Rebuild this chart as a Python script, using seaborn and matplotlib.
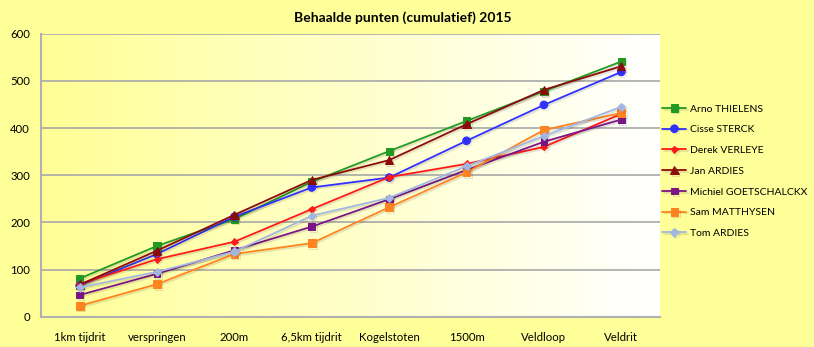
import numpy as np
import pandas as pd
import matplotlib
matplotlib.use("Agg")
import matplotlib.pyplot as plt
import matplotlib.patheffects as pe
import seaborn as sns

categories = ["1km tijdrit", "verspringen", "200m", "6,5km tijdrit",
              "Kogelstoten", "1500m", "Veldloop", "Veldrit"]
arno = [81, 150, 207, 286, 351, 415, 478, 541]
cisse = [66, 133, 212, 274, 295, 373, 449, 519]
derek = [69, 122, 159, 228, 296, 324, 360, 430]
jan = [68, 140, 216, 290, 332, 408, 481, 531]
michiel = [46, 91, 141, 191, 249, 311, 371, 418]
sam = [23, 69, 133, 156, 232, 306, 396, 432]
tom = [62, 95, 138, 214, 252, 319, 383, 445]
names = ["Arno THIELENS", "Cisse STERCK", "Derek VERLEYE", "Jan ARDIES",
         "Michiel GOETSCHALCKX", "Sam MATTHYSEN", "Tom ARDIES"]
series = [arno, cisse, derek, jan, michiel, sam, tom]
title = "Behaalde punten (cumulatief) 2015"
yticks = [0, 100, 200, 300, 400, 500, 600]

colors = ["#229a22", "#3030ff", "#ff1a1a", "#8c0a0a", "#7a1585", "#ff8420", "#a2b6e2"]
markers = ["s", "o", "D", "^", "s", "s", "D"]
msizes = [5.2, 5.5, 3.6, 6.0, 4.8, 5.5, 4.2]

rows = []
for n, vals in zip(names, series):
    for i, v in enumerate(vals):
        rows.append({"cat": i, "name": n, "val": v})
df = pd.DataFrame(rows)

sns.set_theme(style="white")
plt.rcParams["font.family"] = ["Lato", "DejaVu Sans"]
plt.rcParams["text.color"] = "black"
plt.rcParams["xtick.color"] = "black"
plt.rcParams["ytick.color"] = "black"

bg = "#ffff99"
fig = plt.figure(figsize=(8.14, 3.47), dpi=100, facecolor=bg)
ax = fig.add_axes([41 / 814, 1 - 316.7 / 347, 619 / 814, 283 / 347])
ax.set_facecolor("none")

# gradient background of plot area
grad = np.linspace(0, 1, 256)
img = np.zeros((1, 256, 3))
img[0, :, 0] = 1.0
img[0, :, 1] = 1.0
img[0, :, 2] = (150 + (255 - 150) * grad) / 255
ax.imshow(img, extent=[0, 1, 0, 1], transform=ax.transAxes, aspect="auto", zorder=0)

for n, c, m, ms in zip(names, colors, markers, msizes):
    sub = df[df["name"] == n]
    sns.lineplot(data=sub, x="cat", y="val", ax=ax, color=c, marker=m,
                 markersize=ms, markeredgecolor=c, linewidth=1.3, label=n,
                 zorder=3,
                 path_effects=[pe.SimpleLineShadow(offset=(1, -1.2), alpha=0.12), pe.Normal()])

ax.set_xlim(-0.5, len(categories) - 0.5)
ax.set_ylim(0, 600)
ax.set_yticks(yticks)
ax.set_yticklabels([str(t) for t in yticks], fontsize=8.2)
ax.set_xticks(range(len(categories)))
ax.set_xticklabels(categories, fontsize=8.2)
ax.set_xticks(np.arange(-0.5, len(categories), 1), minor=True)
ax.tick_params(axis="x", which="major", length=0, pad=11)
ax.tick_params(axis="x", which="minor", length=5, color="#aaaaaa", width=1.2, direction="out")
ax.tick_params(axis="y", length=5, color="#aaaaaa", width=1.2, direction="out", pad=3)
ax.set_xlabel("")
ax.set_ylabel("")
ax.yaxis.grid(True, color="#a8a8a8", linewidth=1.2, zorder=1)
ax.set_axisbelow(True)
for s in ["top", "right"]:
    ax.spines[s].set_visible(False)
for s in ["left", "bottom"]:
    ax.spines[s].set_color("#b0b0b0")
    ax.spines[s].set_linewidth(1.5)

fig.text(403 / 814, 1 - 18 / 347, title, ha="center", va="center",
         fontsize=10, fontweight="bold", color="black")

leg = ax.legend(loc="center left", bbox_to_anchor=(1.004, 0.514), frameon=False,
                fontsize=7.5, handlelength=2.3, labelspacing=1.1,
                handletextpad=0.3, borderaxespad=0.0, borderpad=0.0,
                markerscale=1.0)
for t in leg.get_texts():
    t.set_color("black")

fig.savefig("out.png", dpi=100, facecolor=bg)
